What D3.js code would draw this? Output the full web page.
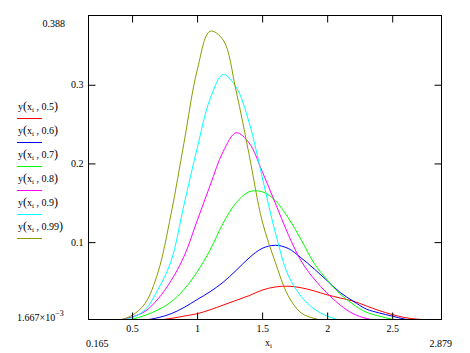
<!doctype html>
<html>
  <head>
    <meta charset="utf-8">
    <title>y(x, p)</title>
    <script src="https://cdn.jsdelivr.net/npm/d3@7"></script>
    <style>
      body { margin: 0; background: #fff; }
    </style>
  </head>
  <body>
    <script>
      // x_i sample points
      const xs = [0.3, 0.4, 0.5, 0.6, 0.7, 0.8, 0.9, 1.0, 1.1, 1.2, 1.3, 1.4, 1.5,
                  1.6, 1.7, 1.8, 1.9, 2.0, 2.1, 2.2, 2.3, 2.4, 2.5, 2.6, 2.7, 2.8];

      const y05  = [0, 0, 0, 0, 0.001, 0.003, 0.006, 0.009, 0.014, 0.020, 0.026, 0.032, 0.039,
                    0.043, 0.044, 0.042, 0.038, 0.033, 0.029, 0.025, 0.019, 0.013, 0.008, 0.004, 0.002, 0.001];
      const y06  = [0, 0, 0, 0.001, 0.004, 0.009, 0.017, 0.027, 0.037, 0.049, 0.064, 0.080, 0.092,
                    0.096, 0.092, 0.080, 0.066, 0.051, 0.036, 0.025, 0.015, 0.010, 0.006, 0.002, 0, 0];
      const y07  = [0, 0, 0.002, 0.007, 0.014, 0.024, 0.040, 0.062, 0.090, 0.124, 0.150, 0.164, 0.164,
                    0.153, 0.131, 0.103, 0.073, 0.052, 0.034, 0.021, 0.011, 0.006, 0.002, 0, 0, 0];
      const y08  = [0, 0.001, 0.005, 0.012, 0.028, 0.051, 0.082, 0.127, 0.172, 0.215, 0.239, 0.226, 0.190,
                    0.150, 0.110, 0.076, 0.053, 0.035, 0.020, 0.009, 0.003, 0, 0, 0, 0, 0];
      const y09  = [0, 0.001, 0.004, 0.014, 0.040, 0.076, 0.148, 0.219, 0.282, 0.313, 0.297, 0.252, 0.183,
                    0.113, 0.058, 0.031, 0.015, 0.006, 0.001, 0, 0, 0, 0, 0, 0, 0];
      const y099 = [0, 0.001, 0.007, 0.022, 0.062, 0.136, 0.227, 0.318, 0.368, 0.357, 0.292, 0.211, 0.127,
                    0.075, 0.032, 0.010, 0.003, 0, 0, 0, 0, 0, 0, 0, 0, 0];

      const params = ['0.5', '0.6', '0.7', '0.8', '0.9', '0.99'];
      const seriesValues = [y05, y06, y07, y08, y09, y099];
      const colors = ['#ff0000', '#0000ff', '#00ff00', '#ff00ff', '#00ffff', '#8c9c00'];

      const xTicks = [0.5, 1, 1.5, 2, 2.5];
      const yTicks = [0.1, 0.2, 0.3];
      const xMin = 0.165, xMax = 2.879;
      const yMin = 0.001667, yMax = 0.388;

      const width = 470, height = 353;
      const box = { left: 88.5, right: 441.5, top: 15.5, bottom: 319.5 };
      const tickFont = '"Liberation Serif", serif';

      const svg = d3.select('body').append('svg')
          .attr('width', width)
          .attr('height', height);

      const x = d3.scaleLinear().domain([xMin, xMax]).range([box.left, box.right]);
      const y = d3.scaleLinear().domain([yMin, yMax]).range([box.bottom, box.top]);

      svg.append('clipPath').attr('id', 'plot')
        .append('rect')
          .attr('x', box.left).attr('y', box.top)
          .attr('width', box.right - box.left).attr('height', box.bottom - box.top);

      // curves
      const line = d3.line()
          .x(d => x(d[0]))
          .y(d => y(d[1]))
          .curve(d3.curveCatmullRom.alpha(0.5));

      svg.append('g').attr('clip-path', 'url(#plot)')
        .selectAll('path')
        .data(seriesValues)
        .enter().append('path')
          .attr('d', vals => line(xs.map((v, i) => [v, vals[i]])))
          .attr('fill', 'none')
          .attr('stroke', (d, i) => colors[i])
          .attr('stroke-width', 1);

      // axes, ticks pointing inward
      function styleAxis(g) {
        g.select('.domain').remove();
        g.selectAll('line').attr('stroke', '#000');
        g.selectAll('text').attr('fill', '#000')
          .attr('font-family', tickFont).attr('font-size', 10);
      }
      svg.append('g')
          .attr('transform', `translate(0, ${box.bottom})`)
          .call(d3.axisBottom(x).tickValues(xTicks).tickSize(-7).tickPadding(5).tickFormat(d3.format('')))
          .call(styleAxis);
      svg.append('g')
          .attr('transform', `translate(0, ${box.top})`)
          .call(d3.axisTop(x).tickValues(xTicks).tickSize(-7).tickFormat(''))
          .call(styleAxis);
      svg.append('g')
          .attr('transform', `translate(${box.left}, 0)`)
          .call(d3.axisLeft(y).tickValues(yTicks).tickSize(-7).tickPadding(5).tickFormat(d3.format('')))
          .call(styleAxis);
      svg.append('g')
          .attr('transform', `translate(${box.right}, 0)`)
          .call(d3.axisRight(y).tickValues(yTicks).tickSize(-7).tickFormat(''))
          .call(styleAxis);

      svg.append('rect')
          .attr('x', box.left).attr('y', box.top)
          .attr('width', box.right - box.left).attr('height', box.bottom - box.top)
          .attr('fill', 'none').attr('stroke', '#000');

      // range labels
      const labels = svg.append('g')
          .attr('font-family', tickFont).attr('font-size', 10).attr('fill', '#000');
      labels.append('text').attr('x', 65).attr('y', 27).attr('text-anchor', 'end').text(yMax);
      const yMinLabel = labels.append('text').attr('x', 17).attr('y', 321);
      yMinLabel.append('tspan').text('1.667\u00d710');
      yMinLabel.append('tspan').attr('dy', -5).attr('font-size', 8).text('\u2212' + '3');
      labels.append('text').attr('x', 86).attr('y', 347).text(xMin);
      labels.append('text').attr('x', 452).attr('y', 347).attr('text-anchor', 'end').text(xMax);
      const xLabel = labels.append('text').attr('x', 265).attr('y', 346);
      xLabel.append('tspan').text('x');
      xLabel.append('tspan').attr('dy', 2).attr('font-size', 7).text('i');

      // legend
      const legend = svg.append('g')
          .attr('font-family', tickFont).attr('font-size', 10).attr('fill', '#000');
      params.forEach((p, i) => {
        const t = legend.append('text').attr('x', 18).attr('y', 110 + 24 * i);
        t.append('tspan').text('y');
        t.append('tspan').attr('font-size', 12).text('(');
        t.append('tspan').text('x');
        t.append('tspan').attr('dy', 2).attr('font-size', 7).text('i');
        t.append('tspan').attr('dy', -2).text(' , ' + p);
        t.append('tspan').attr('font-size', 12).text(')');
        legend.append('line')
            .attr('x1', 17).attr('x2', 42)
            .attr('y1', 118.5 + 24 * i).attr('y2', 118.5 + 24 * i)
            .attr('stroke', colors[i]).attr('stroke-width', 1);
      });
    </script>
  </body>
</html>
